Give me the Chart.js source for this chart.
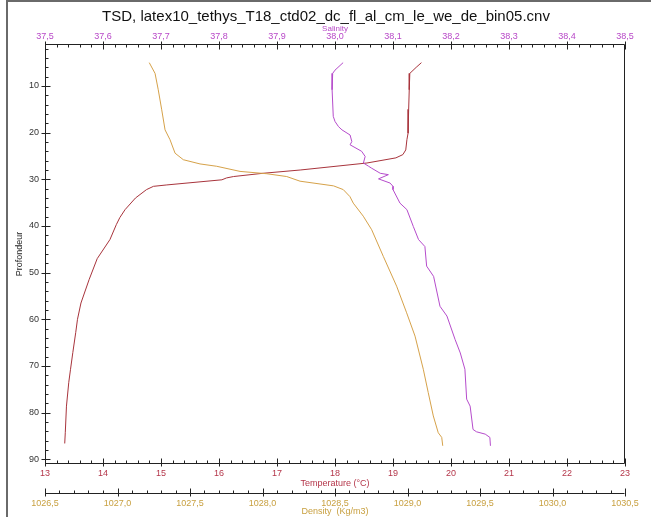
<!DOCTYPE html>
<html>
<head>
<meta charset="utf-8">
<script src="https://cdn.jsdelivr.net/npm/chart.js@4.4.1/dist/chart.umd.min.js"></script>
<style>
html,body{margin:0;padding:0;background:#fff;}
#wrap{position:absolute;left:0;top:0;width:651px;height:517px;}
</style>
</head>
<body>
<div id="wrap"><canvas id="c" width="651" height="517"></canvas></div>
<script>
// ---- data ----
const chartTitle = 'TSD, latex10_tethys_T18_ctd02_dc_fl_al_cm_le_we_de_bin05.cnv';

const tempDepth = [5.0, 6.0, 7.3, 10.8, 15.0, 20.1, 21.5, 23.7, 24.7, 25.4, 26.5, 28.0, 28.7, 29.4, 29.7, 30.1, 31.2, 31.5, 32.2, 34.0, 36.5, 38.2, 39.7, 42.9, 47.0, 51.5, 56.5, 60.0, 62.8, 67.1, 70.7, 73.5, 78.6, 84.2, 86.6];
const tempValues = [19.49, 19.40, 19.29, 19.28, 19.27, 19.26, 19.24, 19.22, 19.17, 19.05, 18.55, 17.40, 16.76, 16.25, 16.13, 16.05, 15.10, 14.87, 14.75, 14.56, 14.38, 14.29, 14.23, 14.12, 13.90, 13.76, 13.62, 13.56, 13.53, 13.48, 13.44, 13.41, 13.37, 13.35, 13.34];

const salDepth = [5.0, 6.6, 7.3, 10.8, 16.5, 17.6, 18.7, 19.4, 20.5, 21.9, 22.6, 24.0, 25.1, 26.5, 27.2, 27.6, 28.7, 29.0, 29.9, 30.8, 31.5, 32.2, 35.1, 36.5, 40.1, 42.9, 44.4, 48.6, 50.8, 57.2, 59.3, 64.3, 67.2, 70.7, 77.1, 78.6, 83.6, 84.1, 84.6, 85.3, 87.1];
const salValues = [38.014, 38.000, 37.996, 37.995, 37.997, 38.000, 38.006, 38.012, 38.026, 38.029, 38.026, 38.046, 38.052, 38.049, 38.058, 38.063, 38.078, 38.092, 38.075, 38.095, 38.100, 38.100, 38.112, 38.124, 38.135, 38.144, 38.155, 38.158, 38.170, 38.181, 38.193, 38.207, 38.216, 38.224, 38.227, 38.233, 38.238, 38.244, 38.259, 38.267, 38.268];

const densDepth = [5.0, 7.3, 10.8, 15.1, 19.4, 21.5, 24.4, 25.8, 26.7, 27.2, 28.3, 28.8, 29.4, 30.4, 31.4, 32.2, 33.7, 35.1, 37.9, 40.8, 46.5, 52.9, 58.6, 63.6, 70.7, 75.7, 80.7, 84.3, 85.3, 87.1];
const densValues = [1027.219, 1027.259, 1027.281, 1027.305, 1027.328, 1027.362, 1027.397, 1027.454, 1027.569, 1027.684, 1027.845, 1028.029, 1028.167, 1028.259, 1028.490, 1028.557, 1028.603, 1028.626, 1028.695, 1028.753, 1028.833, 1028.925, 1028.994, 1029.052, 1029.109, 1029.143, 1029.178, 1029.212, 1029.236, 1029.243];

const depthTicks = [10, 20, 30, 40, 50, 60, 70, 80, 90];
const temperatureTicks = [13, 14, 15, 16, 17, 18, 19, 20, 21, 22, 23];
const salinityTicks = [37.5, 37.6, 37.7, 37.8, 37.9, 38.0, 38.1, 38.2, 38.3, 38.4, 38.5];
const densityTicks = [1026.5, 1027.0, 1027.5, 1028.0, 1028.5, 1029.0, 1029.5, 1030.0, 1030.5];

// ---- colours ----
const cTemp = '#a8343c', cTempTxt = '#b4364a';
const cSal = '#b64ccc', cSalTxt = '#b848c8';
const cDens = '#d6a24a', cDensTxt = '#c8a040';
const FONT = "'Liberation Sans', Arial, sans-serif";

const pts = (d, v) => d.map((y, i) => ({x: v[i], y: y}));
const comma = v => Number(v).toFixed(1).replace('.', ',');
const setTicks = arr => scale => { scale.ticks = arr.map(v => ({value: v})); };

// minor / major tick marks drawn with the scales' own pixel mapping
const tickPlugin = {
  id: 'tickMarks',
  beforeDraw(chart) {
    const ctx = chart.ctx;
    ctx.save();
    ctx.fillStyle = '#fff';
    ctx.fillRect(0, 0, chart.width, chart.height);
    ctx.strokeStyle = '#6a6a6a';
    ctx.lineWidth = 2;
    ctx.beginPath();
    ctx.moveTo(7, 1); ctx.lineTo(chart.width, 1);
    ctx.moveTo(7, 0); ctx.lineTo(7, chart.height);
    ctx.stroke();
    ctx.fillStyle = '#111';
    ctx.font = '15px ' + FONT;
    ctx.textAlign = 'center';
    ctx.textBaseline = 'middle';
    ctx.fillText(chartTitle, 326, 17);
    ctx.restore();
  },
  afterDraw(chart) {
    const ctx = chart.ctx, a = chart.chartArea, s = chart.scales;
    ctx.save();
    ctx.strokeStyle = '#222';
    ctx.lineWidth = 1;
    const L = Math.round(a.left) + 0.5, R = Math.round(a.right) - 0.5;
    const T = Math.round(a.top) + 0.5, B = Math.round(a.bottom) - 0.5;
    ctx.beginPath();
    ctx.moveTo(L, T); ctx.lineTo(R, T); ctx.lineTo(R, B); ctx.lineTo(L, B); ctx.closePath();
    const horiz = (scale, min, max, minor, ratio, y0, majUp, majDn, minUp, minDn) => {
      const n = Math.round((max - min) / minor);
      for (let i = 0; i <= n; i++) {
        const v = min + i * minor;
        const x = Math.round(scale.getPixelForValue(v)) + 0.5;
        const maj = i % ratio === 0;
        ctx.moveTo(x, y0 - (maj ? majUp : minUp));
        ctx.lineTo(x, y0 + (maj ? majDn : minDn));
      }
    };
    // salinity (top)
    horiz(s.xS, 37.5, 38.5, 0.02, 5, T, 3, 5, 0, 3);
    // temperature (bottom)
    horiz(s.xT, 13, 23, 0.2, 5, B, 5, 3, 3, 0);
    // density axis line + ticks
    const yD = Math.round(s.xD.top) + 0.5;
    ctx.moveTo(L, yD); ctx.lineTo(R, yD);
    horiz(s.xD, 1026.5, 1030.5, 0.1, 5, yD, 5, 3, 3, 0);
    // depth (left)
    for (let d = 2; d <= 90; d += 2) {
      const y = Math.round(s.y.getPixelForValue(d)) + 0.5;
      const maj = d % 10 === 0;
      ctx.moveTo(L - (maj ? 4 : 0), y);
      ctx.lineTo(L + (maj ? 5 : 3), y);
    }
    ctx.stroke();
    ctx.restore();
  }
};

const lineDs = (label, data, color, axis) => ({
  label, data, xAxisID: axis, yAxisID: 'y',
  showLine: true, borderColor: color, backgroundColor: color,
  borderWidth: 1, pointRadius: 0, tension: 0, fill: false
});

const noGrid = {display: false, drawTicks: false};
const noBorder = {display: false};

new Chart(document.getElementById('c'), {
  type: 'scatter',
  data: {
    datasets: [
      lineDs('Density', pts(densDepth, densValues), cDens, 'xD'),
      lineDs('Salinity', pts(salDepth, salValues), cSal, 'xS'),
      lineDs('Temperature', pts(tempDepth, tempValues), cTemp, 'xT')
    ]
  },
  options: {
    responsive: false,
    animation: false,
    layout: {padding: {top: 22, left: 8, right: 26, bottom: 0}},
    plugins: {legend: {display: false}, tooltip: {enabled: false}, title: {display: false}},
    scales: {
      y: {
        type: 'linear', position: 'left', reverse: true, min: 1, max: 91,
        afterBuildTicks: setTicks(depthTicks),
        afterFit: sc => { sc.width = 37; },
        grid: noGrid, border: noBorder,
        ticks: {color: '#333', font: {family: FONT, size: 9}, padding: 6, callback: v => String(v)},
        title: {display: true, text: 'Profondeur', color: '#222', font: {family: FONT, size: 9}, padding: {top: 6, bottom: 0}}
      },
      xS: {
        type: 'linear', position: 'top', min: 37.5, max: 38.5,
        afterBuildTicks: setTicks(salinityTicks),
        afterFit: sc => { sc.height = 22; },
        grid: noGrid, border: noBorder,
        ticks: {color: cSalTxt, font: {family: FONT, size: 9}, padding: 2, maxRotation: 0, autoSkip: false, callback: comma},
        title: {display: true, text: 'Salinity', color: cSalTxt, font: {family: FONT, size: 8}, padding: {top: 2, bottom: 0}}
      },
      xT: {
        type: 'linear', position: 'bottom', weight: 0, min: 13, max: 23,
        afterBuildTicks: setTicks(temperatureTicks),
        afterFit: sc => { sc.height = 29; },
        grid: noGrid, border: noBorder,
        ticks: {color: cTempTxt, font: {family: FONT, size: 9}, padding: 4, maxRotation: 0, autoSkip: false, callback: v => String(v)},
        title: {display: true, text: 'Temperature (°C)', color: cTempTxt, font: {family: FONT, size: 9}, padding: {top: 0, bottom: 4}}
      },
      xD: {
        type: 'linear', position: 'bottom', weight: 1, min: 1026.5, max: 1030.5,
        afterBuildTicks: setTicks(densityTicks),
        afterFit: sc => { sc.height = 24; },
        grid: noGrid, border: noBorder,
        ticks: {color: cDensTxt, font: {family: FONT, size: 9}, padding: 5, maxRotation: 0, autoSkip: false, callback: comma},
        title: {display: true, text: 'Density  (Kg/m3)', color: cDensTxt, font: {family: FONT, size: 9}, padding: {top: 0, bottom: 0}}
      }
    }
  },
  plugins: [tickPlugin]
});
</script>
</body>
</html>
